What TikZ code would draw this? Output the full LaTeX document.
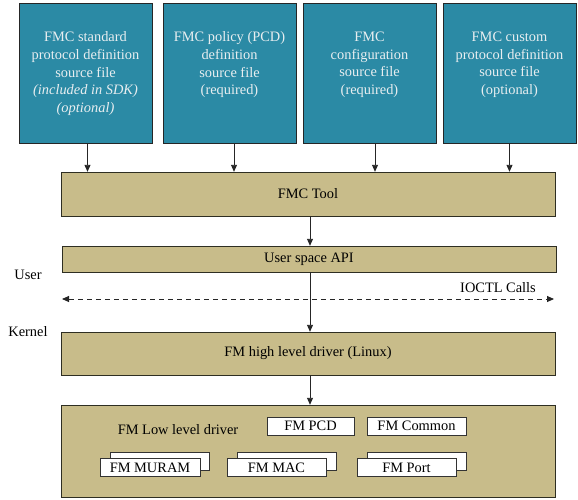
\documentclass[tikz,border=0pt]{standalone}
\usepackage{fontspec}
\setmainfont{Liberation Serif}
\usepackage{tikz}
\usetikzlibrary{arrows.meta, positioning}
\definecolor{srcteal}{HTML}{2B8AA5}
\definecolor{srctext}{HTML}{E8EEF0}
\definecolor{drvtan}{HTML}{C8BC8A}
\definecolor{drvedge}{HTML}{2E2E22}

\begin{document}
\begin{tikzpicture}[
    x=1pt, y=-1pt,
    font=\fontsize{14.4}{17.6}\selectfont,
    srcbox/.style={draw=black!85, fill=srcteal, minimum width=133pt, minimum height=140pt, inner sep=0pt},
    srclabel/.style={text=srctext, align=center, inner sep=0pt},
    drvbox/.style={draw=drvedge, fill=drvtan, minimum width=494pt, minimum height=#1, inner sep=0pt},
    modbox/.style={draw=black!80, fill=white, minimum width=#1, minimum height=18pt, inner sep=0pt},
    arrow/.style={-{Triangle[length=7pt, width=6pt]}, black!85, line width=0.9pt},
]
    \useasboundingbox (0,0) rectangle (578,499);

    % Source files
    \node[srcbox] (f1) at (85.5, 73) {};
    \node[srclabel, below=29pt of f1.north] {FMC standard\\protocol definition\\source file\\\textit{(included in SDK)}\\\textit{(optional)}};
    \node[srcbox] (f2) at (229.5, 73) {};
    \node[srclabel, below=29pt of f2.north] {FMC policy (PCD)\\definition\\source file\\(required)};
    \node[srcbox] (f3) at (369.5, 73) {};
    \node[srclabel, below=29pt of f3.north] {FMC\\configuration\\source file\\(required)};
    \node[srcbox] (f4) at (509.5, 73) {};
    \node[srclabel, below=29pt of f4.north] {FMC custom\\protocol definition\\source file\\(optional)};

    % Tool and driver layers
    \node[drvbox=44pt] (tool) at (308, 194) {FMC Tool};
    \node[drvbox=26pt] (api) at (309, 259) {User space API};
    \node[drvbox=43pt] (hld) at (308, 353.5) {FM high level driver (Linux)};
    \node[drvbox=92pt] (lld) at (308, 451) {};
    \node (lldtxt) at (178, 430) {FM Low level driver};

    % Driver modules
    \node[modbox=87pt] (pcd) at (310.5, 426) {FM PCD};
    \node[modbox=99pt] (common) at (416.5, 426) {FM Common};
    \node[modbox=99pt] (muramb) at (160, 461.5) {};
    \node[modbox=100pt] (muram) at (150, 467.5) {FM MURAM};
    \node[modbox=99pt] (macb) at (286.5, 461.5) {};
    \node[modbox=99pt] (mac) at (276.5, 467.5) {FM MAC};
    \node[modbox=99pt] (portb) at (416.5, 461.5) {};
    \node[modbox=99pt] (port) at (406.5, 467.5) {FM Port};

    % User / kernel boundary
    \node (user) at (28, 275) {User};
    \node (kernel) at (28, 332) {Kernel};
    \node (ioctl) at (498, 288) {IOCTL Calls};
    \coordinate (ioL) at (62, 299);
    \coordinate (ioR) at (554, 299);

    % Flow arrows
    \draw[arrow] ([xshift=2pt]f1.south) -- ([xshift=2pt]f1.south |- tool.north);
    \draw[arrow] ([xshift=4.5pt]f2.south) -- ([xshift=4.5pt]f2.south |- tool.north);
    \draw[arrow] ([xshift=5.5pt]f3.south) -- ([xshift=5.5pt]f3.south |- tool.north);
    \draw[arrow] (f4.south) -- (f4.south |- tool.north);
    \draw[arrow] ([xshift=2pt]tool.south) -- ([xshift=2pt]tool.south |- api.north);
    \draw[arrow] ([xshift=1pt]api.south) -- ([xshift=1pt]api.south |- hld.north);
    \draw[arrow] ([xshift=2pt]hld.south) -- ([xshift=2pt]hld.south |- lld.north);
    \draw[arrow, {Triangle[length=7pt, width=6pt]}-{Triangle[length=7pt, width=6pt]}, dash pattern=on 5pt off 4pt] (ioL) -- (ioR);

\end{tikzpicture}
\end{document}
